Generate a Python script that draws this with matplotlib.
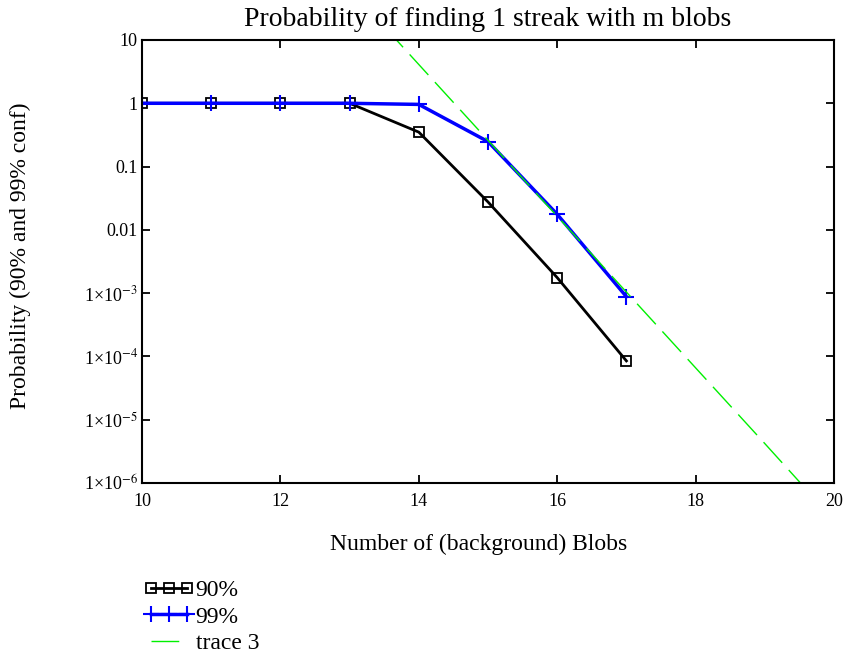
import matplotlib
matplotlib.use("Agg")
from matplotlib import pyplot as plt
from matplotlib.ticker import FixedLocator, FixedFormatter
from matplotlib.legend_handler import HandlerLine2D

plt.rcParams['font.family'] = ['Liberation Serif', 'DejaVu Serif']
plt.rcParams['mathtext.fontset'] = 'stix'

# data
blobs = [10, 11, 12, 13, 14, 15, 16, 17]
p90 = [1.0, 1.0, 1.0, 1.0, 0.35, 0.0276, 0.00176, 8.5e-5]
p99 = [1.0, 1.0, 1.0, 1.0, 0.96, 0.248, 0.0176, 8.8e-4]
trace3_x = [13, 14, 15, 16, 17, 18, 19, 20]
trace3_y = [65.0, 4.1, 0.26, 0.0164, 1.04e-3, 6.6e-5, 4.2e-6, 2.6e-7]

xticks = [10, 12, 14, 16, 18, 20]
yticks = [10, 1, 0.1, 0.01, 1e-3, 1e-4, 1e-5, 1e-6]
ylabels = ['10', '1', '0.1', '0.01', r'1×10$^{-3}$', r'1×10$^{-4}$',
           r'1×10$^{-5}$', r'1×10$^{-6}$']

fig = plt.figure(figsize=(8.49, 6.57), dpi=100)
ax = fig.add_axes([142/849, 1 - 483/657, (834-142)/849, (483-40)/657])

ax.plot(blobs, p90, color='black', lw=2, marker='s', ms=7, mfc='none',
        mec='black', mew=1.3, label='90%')
ax.plot(blobs, p99, color='#0000ff', lw=2.5, marker='+', ms=11,
        mew=1.5, label='99%')
ax.plot(trace3_x, trace3_y, color='#00f000', lw=1, linestyle=(0, (20, 7)),
        label='trace 3')

ax.set_yscale('log')
ax.set_xlim(10, 20)
ax.set_ylim(1e-6, 10)
ax.xaxis.set_major_locator(FixedLocator(xticks))
ax.yaxis.set_major_locator(FixedLocator(yticks))
ax.yaxis.set_major_formatter(FixedFormatter(ylabels))
ax.yaxis.set_minor_locator(FixedLocator([]))
ax.tick_params(direction='in', length=6, width=1.3, labelsize=13,
               top=True, right=True)
ax.tick_params(axis='x', pad=7)
ax.tick_params(axis='y', pad=3)
for s in ax.spines.values():
    s.set_linewidth(1.5)

ax.set_title('Probability of finding 1 streak with m blobs', fontsize=20, pad=10)
ax.set_xlabel('Number of (background) Blobs', fontsize=17)
ax.set_ylabel('Probability (90% and 99% conf)', fontsize=17)
ax.xaxis.set_label_coords(0.486, -0.115)
ax.yaxis.set_label_coords(-0.16, 0.512)

fig.legend(loc='upper left', bbox_to_anchor=(139/849, 1 - 568/657),
           frameon=False, fontsize=17, handlelength=1.55,
           handletextpad=0.35, labelspacing=0.2, borderpad=0,
           handler_map={matplotlib.lines.Line2D: HandlerLine2D(numpoints=3, marker_pad=0)})

fig.savefig('out.png', dpi=100)
